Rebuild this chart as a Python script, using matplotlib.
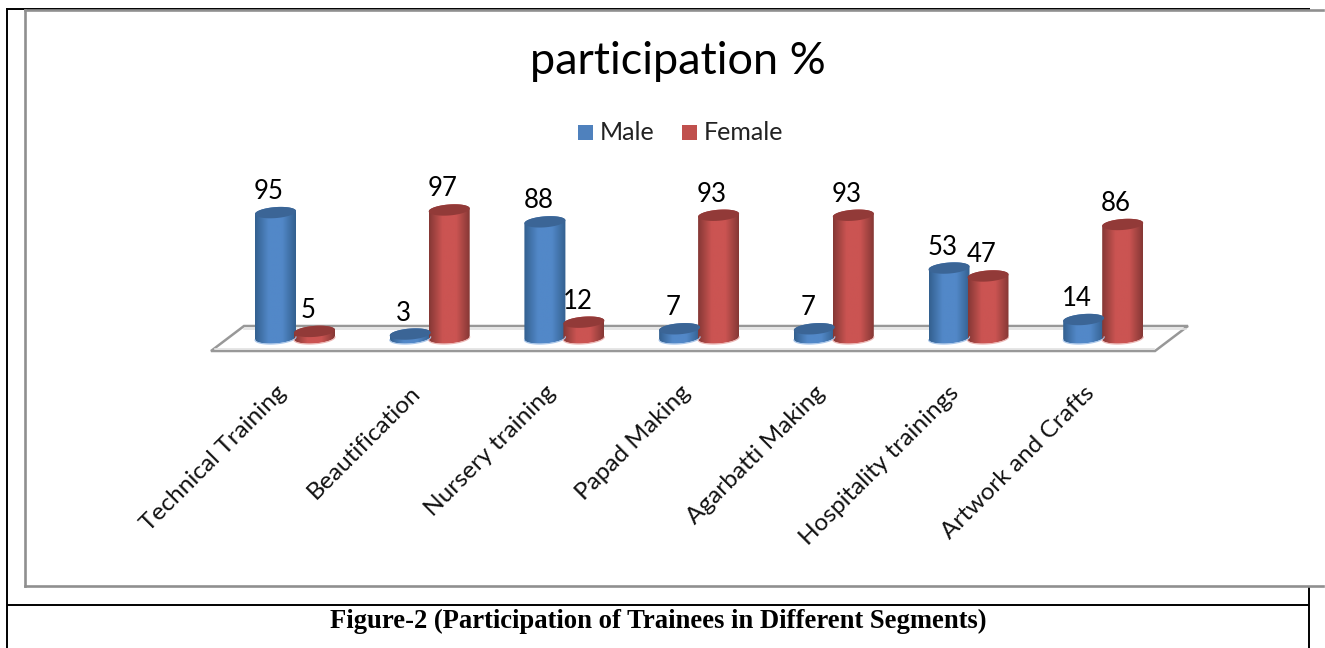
import numpy as np
import matplotlib
matplotlib.use("Agg")
import matplotlib.pyplot as plt
from matplotlib.colors import LinearSegmentedColormap
from matplotlib.patches import Polygon, Rectangle

categories = ["Technical Training", "Beautification", "Nursery training", "Papad Making",
              "Agarbatti Making", "Hospitality trainings", "Artwork and Crafts"]
male = [95, 3, 88, 7, 7, 53, 14]
female = [5, 97, 12, 93, 93, 47, 86]

plt.rcParams['font.family'] = ['Lato', 'DejaVu Sans']

W, H = 1325, 648
fig = plt.figure(figsize=(W / 100, H / 100), dpi=100)

# pixel axes for the page frame, floor and the text
bg = fig.add_axes([0, 0, 1, 1], zorder=1)
bg.set_xlim(0, W)
bg.set_ylim(H, 0)
bg.axis('off')

# page table lines
for xs, ys in [([7, 1310], [8.5, 8.5]), ([7, 7], [8, 648]), ([1309, 1309], [587, 648]),
               ([7, 1309], [604.5, 604.5])]:
    bg.plot(xs, ys, color='black', lw=1.4, solid_capstyle='butt')

# chart frame
for xs, ys in [([25, 1323], [10, 10]), ([25, 25], [10, 586]), ([25, 1323], [586, 586])]:
    bg.plot(xs, ys, color='#8f8f8f', lw=1.9, solid_capstyle='projecting')

# floor of the 3d chart
floor = [(211, 351), (1155, 351), (1188, 326), (244, 326)]
bg.add_patch(Polygon(floor, closed=True, facecolor='white', edgecolor='#989898', lw=1.8))
bg.plot([215, 1154], [348.5, 348.5], color='#e2e2e2', lw=1.2)
bg.plot([244, 1186], [328.5, 328.5], color='#e2e2e2', lw=1.2)

bg.text(678, 62, "participation %", fontsize=32.4, ha='center', va='center', color='black')

# legend
bg.add_patch(Rectangle((578, 125), 15, 15, facecolor='#4f81bd', edgecolor='none'))
bg.text(600, 132, "Male", fontsize=18, va='center', color='#222222')
bg.add_patch(Rectangle((682, 125), 15, 15, facecolor='#c0504d', edgecolor='none'))
bg.text(704, 132, "Female", fontsize=18, va='center', color='#222222')

for i, name in enumerate(categories):
    bg.text(275 + 134.7 * i, 382, name, fontsize=17.6, rotation=45, ha='right', va='top',
            rotation_mode='anchor', color='#111111')

bg.text(658, 621.5, "Figure-2 (Participation of Trainees in Different Segments)",
        family='Liberation Serif', fontsize=19.2, fontweight='bold', ha='center', va='center')

# data axes, value 0 sits on the floor and the categories are 134.7 px apart
x0, spacing = 295, 134.7
y0, per_unit = 338, 1.32
ax = fig.add_axes([0, 0, 1, 1], zorder=2)
ax.axis('off')
ax.patch.set_alpha(0)

half_w = 20.5 / spacing
ell_h = 5.5 / per_unit
tilt = 1.5 / per_unit
offset = 19.5 / spacing
label_shift = 6.5 / spacing


def ellipse(cx, v, n=80):
    t = np.linspace(0, 2 * np.pi, n)
    return np.column_stack([cx + half_w * np.cos(t), v + ell_h * np.sin(t) + tilt * np.cos(t)])


def cylinder(cx, v, edge, mid, top, rim):
    t = np.linspace(np.pi, 2 * np.pi, 60)
    bottom = np.column_stack([cx + half_w * np.cos(t), ell_h * np.sin(t) + tilt * np.cos(t)])
    upper = np.column_stack([cx - half_w * np.cos(t), v - ell_h * np.sin(t) - tilt * np.cos(t)])
    body = Polygon(np.vstack([bottom, upper]), closed=True, facecolor='none', edgecolor='none', zorder=3)
    ax.add_patch(body)
    cmap = LinearSegmentedColormap.from_list('c', [edge, mid, mid, edge])
    grad = np.linspace(0, 1, 128).reshape(1, -1)
    im = ax.imshow(grad, cmap=cmap, aspect='auto', zorder=3, interpolation='bilinear',
                   extent=[cx - half_w, cx + half_w, -2 * ell_h, v + 2 * ell_h])
    im.set_clip_path(body)
    # light rim along the base
    ax.plot(bottom[:, 0], bottom[:, 1] - 0.3, color=rim, lw=0.8, zorder=3.5)
    ax.add_patch(Polygon(ellipse(cx, v), closed=True, facecolor=top, edgecolor='none', zorder=4))


for i in range(len(categories)):
    order = [(i - offset, male[i], ('#33608f', '#5288c8', '#3b6596', '#a9c6ea')),
             (i + offset, female[i], ('#853835', '#cb5452', '#923a38', '#ecb5b3'))]
    # red always sits on top of blue
    for cx, v, c in order:
        cylinder(cx, v, *c)
        ax.text(cx - label_shift, v + 8.5 / per_unit, str(v), fontsize=18.5, ha='center', va='bottom',
                color='black', zorder=5)

ax.set_xlim(-x0 / spacing, (W - x0) / spacing)
ax.set_ylim((y0 - H) / per_unit, y0 / per_unit)

fig.savefig("out.png", dpi=100, facecolor='white')
